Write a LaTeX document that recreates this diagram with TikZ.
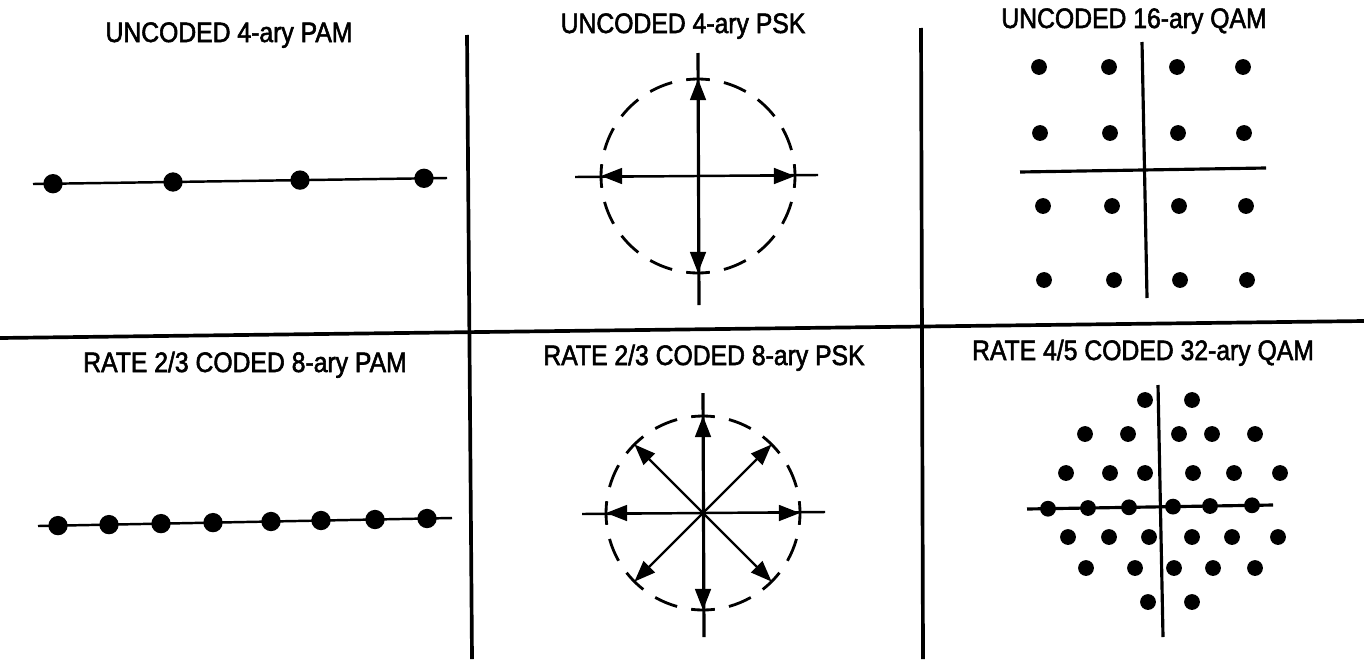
\documentclass[tikz,border=0pt]{standalone}
\usepackage{fontspec}
\setmainfont{Liberation Sans}
\newfontfamily\titlefont{Liberation Sans}[FakeBold=2,FakeStretch=0.88]
\usetikzlibrary{arrows.meta,calc}
\begin{document}
\begin{tikzpicture}[x=0.02cm,y=0.02cm,
  divider/.style={line width=2.1pt},
  title/.style={anchor=base,inner sep=0pt,font=\titlefont\fontsize{16}{18}\selectfont},
  pamline/.style={line width=1.4pt},
  pamdot/.style={circle,fill=black,inner sep=0pt,minimum size=11pt},
  qamdot/.style={circle,fill=black,inner sep=0pt,minimum size=9pt},
  axis/.style={line width=1.8pt},
  thinaxis/.style={line width=1.4pt},
  ray/.style={line width=1.3pt,-{Triangle[length=12pt,width=9pt]}},
  ringdash/.style={line width=1.6pt},
]
\useasboundingbox (0,0) rectangle (1364,-659);

% panel dividers
\coordinate (hl) at (0,-338);
\coordinate (hr) at (1364,-321);
\coordinate (v1t) at (467,-35);
\coordinate (v1b) at (472,-659);
\coordinate (v2t) at (921,-28);
\coordinate (v2b) at (923,-659);
\draw[divider] (hl) -- (hr);
\draw[divider] (v1t) -- (v1b);
\draw[divider] (v2t) -- (v2b);

% titles
\node[title] (t1) at (229,-42) {UNCODED 4-ary PAM};
\node[title] (t2) at (683,-33) {UNCODED 4-ary PSK};
\node[title] (t3) at (1134,-28) {UNCODED 16-ary QAM};
\node[title] (t4) at (245,-372) {RATE 2/3 CODED 8-ary PAM};
\node[title] (t5) at (704,-365) {RATE 2/3 CODED 8-ary PSK};
\node[title] (t6) at (1143,-360) {RATE 4/5 CODED 32-ary QAM};

% uncoded 4-ary PAM
\coordinate (pa) at (33,-184);
\coordinate (pb) at (447,-178);
\draw[pamline] (pa) -- (pb);
\foreach \x/\y [count=\i] in {53/183.7,173/182,300/180.1,424/178.3}
  \node[pamdot] (pam4d\i) at (\x,-\y) {};

% coded 8-ary PAM
\coordinate (qa) at (38,-526);
\coordinate (qb) at (452,-518);
\draw[pamline] (qa) -- (qb);
\foreach \x/\y [count=\i] in {58/525.6,109/524.6,161/523.6,213/522.6,271/521.5,321/520.5,375/519.5,427/518.5}
  \node[pamdot] (pam8d\i) at (\x,-\y) {};

% uncoded 4-ary PSK
\coordinate (c1) at (698,-176);
\coordinate (c1w) at (575,-177);
\coordinate (c1e) at (818,-175);
\coordinate (c1n) at (698,-53);
\coordinate (c1s) at (699,-305);
\draw[thinaxis] (c1w) -- (c1e);
\draw[axis] (c1n) -- (c1s);
\foreach \a in {0,22.5,...,337.5}
  \draw[ringdash] (c1) ++(\a-7:97) arc[start angle=\a-7,end angle=\a+7,radius=97];
\foreach \a in {0,90,180,270} {
  \coordinate (psk4p\a) at ($(c1)+(\a:97)$);
  \draw[ray] (c1) -- (psk4p\a);
}

% coded 8-ary PSK
\coordinate (c2) at (703,-513);
\coordinate (c2w) at (582,-514);
\coordinate (c2e) at (825,-512);
\coordinate (c2n) at (703,-393);
\coordinate (c2s) at (704,-637);
\draw[thinaxis] (c2w) -- (c2e);
\draw[axis] (c2n) -- (c2s);
\foreach \a in {0,22.5,...,337.5}
  \draw[ringdash] (c2) ++(\a-7:97) arc[start angle=\a-7,end angle=\a+7,radius=97];
\foreach \a in {0,45,...,315} {
  \coordinate (psk8p\a) at ($(c2)+(\a:97)$);
  \draw[ray] (c2) -- (psk8p\a);
}

% uncoded 16-ary QAM
\coordinate (q1w) at (1020,-172);
\coordinate (q1e) at (1266,-168);
\coordinate (q1n) at (1142,-42);
\coordinate (q1s) at (1147,-298);
\draw[axis] (q1w) -- (q1e);
\draw[axis] (q1n) -- (q1s);
\foreach \y/\xa/\xb/\xc/\xd [count=\r] in {67/1039/1109/1177/1243,133/1040/1110/1178/1244,206/1043/1112/1179/1246,280/1044/1114/1180/1247} {
  \node[qamdot] (qam16r\r a) at (\xa,-\y) {};
  \node[qamdot] (qam16r\r b) at (\xb,-\y) {};
  \node[qamdot] (qam16r\r c) at (\xc,-\y) {};
  \node[qamdot] (qam16r\r d) at (\xd,-\y) {};
}

% coded 32-ary QAM (cross constellation)
\coordinate (q2w) at (1027,-509);
\coordinate (q2e) at (1273,-505);
\coordinate (q2n) at (1158,-385);
\coordinate (q2s) at (1163,-637);
\draw[axis] (q2w) -- (q2e);
\draw[axis] (q2n) -- (q2s);
\foreach \x/\y [count=\i] in {
  1145/400,1192/400,
  1085/434,1128/434,1179/434,1212/434,1255/434,
  1066/473,1110/473,1145/473,1193/473,1234/473,1280/473,
  1048/508.7,1088/508,1129/507.3,1173/506.6,1210/506,1252/505.3,
  1068/537,1109/537,1149/537,1192/537,1232/537,1278/537,
  1086/568,1135/568,1174/568,1213/568,1255/568,
  1148/602,1192/602}
  \node[qamdot] (qam32d\i) at (\x,-\y) {};
\end{tikzpicture}
\end{document}
